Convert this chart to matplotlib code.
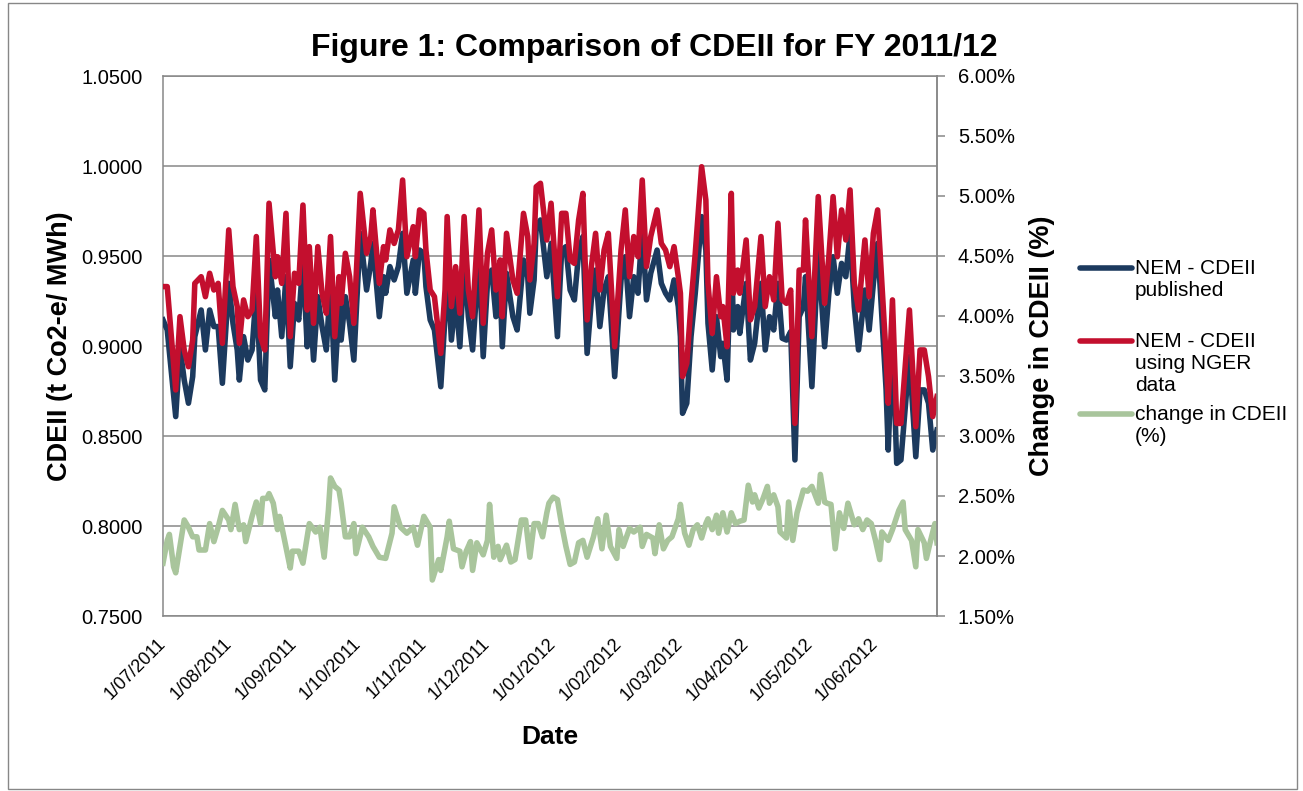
import matplotlib
matplotlib.use("Agg")
import matplotlib.pyplot as plt
from matplotlib.lines import Line2D
from matplotlib.patches import Rectangle
from matplotlib.ticker import FuncFormatter, MultipleLocator
import pandas as pd

plt.rcParams["font.family"] = ["Liberation Sans", "DejaVu Sans"]

# start of the financial year, all day offsets count from here
fy_start = pd.Timestamp("2011-07-01")

# days after 1/07/2011 for the two CDEII series (t CO2-e/MWh)
cdeii_days = [
    0, 2, 6, 8, 10, 12, 14, 15, 18, 20, 22, 24, 26, 28, 31, 33, 35, 36, 38, 40,
    42, 44, 46, 48, 50, 53, 54, 56, 58, 60, 62, 64, 66, 68, 69, 71, 73, 75, 77, 79,
    81, 83, 84, 86, 88, 90, 93, 96, 98, 99, 102, 104, 105, 107, 109, 111, 113, 115, 118, 119,
    121, 123, 124, 126, 128, 131, 133, 134, 136, 138, 140, 142, 144, 146, 149, 151, 153, 155, 157, 159,
    160, 162, 165, 167, 170, 172, 173, 175, 176, 178, 181, 183, 186, 188, 190, 192, 194, 196, 198, 200,
    202, 204, 206, 208, 210, 212, 213, 216, 218, 220, 222, 224, 226, 228, 230, 233, 235, 237, 239, 241,
    243, 244, 245, 247, 249, 251, 254, 256, 257, 259, 261, 263, 264, 266, 268, 269, 271, 272, 275, 277,
    279, 282, 284, 286, 288, 290, 292, 294, 296, 298, 300, 302, 303, 306, 309, 312, 314, 316, 318, 320,
    322, 324, 326, 328, 331, 333, 335, 337, 341, 342, 344, 346, 348, 352, 355, 357, 359, 361, 363, 365,
]
nem_published = [
    0.9145, 0.9089, 0.8608, 0.8996, 0.8811, 0.8682, 0.8830, 0.9052, 0.9200, 0.8978,
    0.9200, 0.9108, 0.9108, 0.8793, 0.9348, 0.9126, 0.8978, 0.8811, 0.9052, 0.8922,
    0.8978, 0.9311, 0.8811, 0.8756, 0.9478, 0.9163, 0.9311, 0.9052, 0.9385, 0.8885,
    0.9237, 0.9145, 0.9478, 0.8996, 0.9311, 0.8922, 0.9274, 0.9108, 0.8978, 0.9348,
    0.8811, 0.9219, 0.9033, 0.9274, 0.9126, 0.8922, 0.9626, 0.9311, 0.9459, 0.9570,
    0.9163, 0.9385, 0.9293, 0.9441, 0.9367, 0.9441, 0.9626, 0.9293, 0.9478, 0.9293,
    0.9533, 0.9515, 0.9330, 0.9145, 0.9089, 0.8774, 0.9163, 0.9478, 0.9033, 0.9274,
    0.8996, 0.9478, 0.9163, 0.8978, 0.9496, 0.8941, 0.9348, 0.9422, 0.9163, 0.9330,
    0.8996, 0.9404, 0.9163, 0.9089, 0.9478, 0.9385, 0.9182, 0.9367, 0.9663, 0.9700,
    0.9385, 0.9570, 0.9052, 0.9533, 0.9552, 0.9311, 0.9256, 0.9515, 0.9608, 0.8959,
    0.9256, 0.9422, 0.9108, 0.9311, 0.9385, 0.9015, 0.8830, 0.9367, 0.9496, 0.9163,
    0.9385, 0.9293, 0.9663, 0.9256, 0.9404, 0.9533, 0.9348, 0.9293, 0.9256, 0.9367,
    0.9219, 0.9052, 0.8626, 0.8682, 0.9052, 0.9293, 0.9719, 0.9533, 0.9126, 0.8867,
    0.9163, 0.8941, 0.9015, 0.8811, 0.9589, 0.9089, 0.9219, 0.9070, 0.9348, 0.8922,
    0.9015, 0.9348, 0.8978, 0.9163, 0.9089, 0.9348, 0.9043, 0.9033, 0.9080, 0.8367,
    0.9163, 0.9219, 0.9385, 0.8774, 0.9533, 0.8996, 0.9293, 0.9496, 0.9293, 0.9459,
    0.9385, 0.9626, 0.9219, 0.8978, 0.9311, 0.9089, 0.9348, 0.9570, 0.8756, 0.8422,
    0.9052, 0.8348, 0.8367, 0.8941, 0.8385, 0.8756, 0.8756, 0.8682, 0.8422, 0.8533,
]
nem_nger = [
    0.9330, 0.9330, 0.8756, 0.9163, 0.8978, 0.8885, 0.9033, 0.9348, 0.9385, 0.9274,
    0.9404, 0.9311, 0.9348, 0.9015, 0.9645, 0.9330, 0.9219, 0.9015, 0.9256, 0.9163,
    0.9200, 0.9608, 0.9052, 0.8978, 0.9793, 0.9385, 0.9496, 0.9348, 0.9737, 0.9052,
    0.9404, 0.9348, 0.9783, 0.9200, 0.9552, 0.9126, 0.9552, 0.9293, 0.9182, 0.9608,
    0.9052, 0.9385, 0.9237, 0.9515, 0.9385, 0.9126, 0.9848, 0.9515, 0.9608, 0.9756,
    0.9348, 0.9552, 0.9478, 0.9645, 0.9570, 0.9645, 0.9922, 0.9496, 0.9663, 0.9496,
    0.9756, 0.9737, 0.9533, 0.9311, 0.9274, 0.8959, 0.9311, 0.9719, 0.9219, 0.9441,
    0.9182, 0.9719, 0.9311, 0.9163, 0.9756, 0.9126, 0.9515, 0.9645, 0.9311, 0.9478,
    0.9163, 0.9626, 0.9367, 0.9293, 0.9737, 0.9608, 0.9367, 0.9570, 0.9885, 0.9904,
    0.9589, 0.9793, 0.9274, 0.9737, 0.9737, 0.9478, 0.9459, 0.9700, 0.9848, 0.9145,
    0.9441, 0.9626, 0.9311, 0.9533, 0.9626, 0.9200, 0.8996, 0.9533, 0.9756, 0.9385,
    0.9608, 0.9496, 0.9922, 0.9441, 0.9608, 0.9756, 0.9570, 0.9533, 0.9441, 0.9552,
    0.9385, 0.9293, 0.8830, 0.8904, 0.9237, 0.9515, 0.9996, 0.9811, 0.9348, 0.9070,
    0.9385, 0.9163, 0.9219, 0.8996, 0.9848, 0.9293, 0.9422, 0.9293, 0.9589, 0.9145,
    0.9219, 0.9608, 0.9219, 0.9385, 0.9256, 0.9682, 0.9256, 0.9237, 0.9311, 0.8570,
    0.9422, 0.9422, 0.9700, 0.9052, 0.9830, 0.9237, 0.9496, 0.9830, 0.9496, 0.9756,
    0.9589, 0.9867, 0.9348, 0.9200, 0.9589, 0.9274, 0.9626, 0.9756, 0.8941, 0.8682,
    0.9256, 0.8570, 0.8570, 0.9200, 0.8552, 0.8978, 0.8978, 0.8830, 0.8608, 0.8719,
]

# days after 1/07/2011 for the percentage change series
change_days = [
    0, 2, 3, 5, 6, 8, 10, 12, 14, 16, 17, 20, 22, 24, 26, 28, 31, 32, 34, 36,
    38, 39, 42, 44, 46, 47, 49, 50, 52, 54, 55, 57, 60, 61, 64, 66, 69, 72, 74, 76,
    78, 79, 81, 83, 84, 86, 88, 90, 91, 94, 97, 99, 102, 105, 108, 109, 112, 115, 118, 120,
    123, 126, 127, 130, 131, 134, 135, 137, 140, 141, 143, 145, 146, 148, 151, 153, 154, 156, 158, 159,
    162, 164, 166, 169, 171, 173, 175, 177, 179, 181, 182, 184, 186, 188, 190, 192, 194, 196, 198, 200,
    203, 205, 207, 209, 211, 214, 215, 217, 220, 222, 225, 226, 228, 231, 232, 234, 236, 238, 240, 243,
    244, 246, 248, 250, 252, 254, 256, 257, 259, 261, 262, 264, 266, 268, 270, 272, 274, 276, 278, 279,
    281, 283, 285, 286, 288, 290, 291, 294, 295, 297, 299, 302, 304, 306, 309, 310, 312, 313, 315, 317,
    319, 321, 323, 326, 328, 330, 332, 334, 336, 338, 339, 342, 344, 347, 349, 350, 353, 355, 356, 359,
    360, 362, 364, 365,
]
change_pct = [
    1.94, 2.13, 2.18, 1.91, 1.86, 2.08, 2.30, 2.24, 2.16, 2.16, 2.05, 2.05, 2.27, 2.12, 2.24, 2.38, 2.30, 2.22, 2.43, 2.22,
    2.26, 2.12, 2.33, 2.45, 2.27, 2.48, 2.48, 2.52, 2.44, 2.22, 2.33, 2.16, 1.90, 2.04, 2.04, 1.94, 2.27, 2.20, 2.24, 1.99,
    2.38, 2.65, 2.58, 2.55, 2.44, 2.16, 2.16, 2.27, 2.02, 2.24, 2.16, 2.08, 1.99, 1.98, 2.19, 2.41, 2.24, 2.19, 2.24, 2.09,
    2.33, 2.24, 1.80, 1.97, 1.88, 2.16, 2.29, 2.06, 2.04, 1.91, 2.04, 2.12, 1.88, 2.11, 2.01, 2.13, 2.43, 1.99, 2.08, 1.97,
    2.09, 1.95, 1.97, 2.30, 2.30, 1.99, 2.27, 2.27, 2.16, 2.36, 2.44, 2.49, 2.47, 2.26, 2.08, 1.93, 1.95, 2.11, 2.13, 1.99,
    2.16, 2.31, 2.06, 2.34, 2.08, 1.98, 2.22, 2.08, 2.23, 2.20, 2.24, 2.08, 2.18, 2.15, 2.02, 2.26, 2.06, 2.13, 2.16, 2.31,
    2.43, 2.19, 2.09, 2.22, 2.26, 2.15, 2.27, 2.31, 2.22, 2.34, 2.19, 2.36, 2.20, 2.36, 2.27, 2.29, 2.30, 2.59, 2.45, 2.51,
    2.40, 2.48, 2.58, 2.44, 2.51, 2.41, 2.20, 2.15, 2.45, 2.13, 2.36, 2.55, 2.54, 2.58, 2.44, 2.68, 2.45, 2.44, 2.43, 2.06,
    2.36, 2.23, 2.44, 2.26, 2.31, 2.22, 2.30, 2.27, 2.13, 1.97, 2.20, 2.13, 2.22, 2.38, 2.45, 2.22, 2.13, 1.91, 2.22, 2.11,
    1.98, 2.13, 2.27, 2.11,
]

series_labels = [
    "NEM - CDEII\npublished",
    "NEM - CDEII\nusing NGER\ndata",
    "change in CDEII\n(%)",
]
month_starts = pd.date_range("2011-07-01", "2012-06-01", freq="MS")
month_labels = [f"{d.day}/{d.month:02d}/{d.year}" for d in month_starts]

BLUE = "#1C3A5E"
RED = "#C30F2E"
GREEN = "#A9C59C"
GREY = "#878787"
LW = 4.0


def to_dates(days):
    return fy_start + pd.to_timedelta(days, unit="D")


fig = plt.figure(figsize=(13.03, 7.91), dpi=100)
ax = fig.add_axes([163 / 1303, 1 - 616 / 791, 774 / 1303, 540 / 791])

# main axis: the two CDEII series
ax.plot(to_dates(cdeii_days), nem_published, color=BLUE, lw=LW, zorder=3,
        solid_joinstyle="round")
ax.plot(to_dates(cdeii_days), nem_nger, color=RED, lw=LW, zorder=4,
        solid_joinstyle="round")

ax.set_xlim(fy_start, fy_start + pd.Timedelta(days=365))
ax.set_ylim(0.75, 1.05)
ax.yaxis.set_major_locator(MultipleLocator(0.05))
ax.yaxis.set_major_formatter(FuncFormatter(lambda v, p: f"{v:.4f}"))
ax.grid(axis="y", color=GREY, lw=1.1, zorder=0)
ax.set_axisbelow(True)

ax.set_xticks(month_starts)
ax.set_xticklabels(month_labels, rotation=45, ha="right", va="center",
                   rotation_mode="anchor", fontsize=13)
ax.tick_params(axis="x", length=0, pad=18)
ax.tick_params(axis="y", length=0, pad=14.5, labelsize=14.5)

for side in ["left", "bottom", "top", "right"]:
    ax.spines[side].set_color(GREY)
    ax.spines[side].set_linewidth(1.1)

ax.set_ylabel("CDEII (t Co2-e/ MWh)", fontsize=19.5, fontweight="bold", labelpad=6)

# secondary axis: percentage change
ax2 = ax.twinx()
ax2.plot(to_dates(change_days), change_pct, color=GREEN, lw=LW,
         solid_joinstyle="round")
ax2.set_ylim(1.5, 6.0)
ax2.yaxis.set_major_locator(MultipleLocator(0.5))
ax2.yaxis.set_major_formatter(FuncFormatter(lambda v, p: f"{v:.2f}%"))
ax2.tick_params(axis="y", direction="out", length=6, width=1.1, color=GREY,
                pad=9, labelsize=14.5)
for side in ["left", "bottom", "top"]:
    ax2.spines[side].set_visible(False)
ax2.spines["right"].set_color(GREY)
ax2.spines["right"].set_linewidth(1.1)
ax2.set_ylabel("Change in CDEII (%)", fontsize=19.5, fontweight="bold", labelpad=10)

# titles
fig.text(654 / 1303, 1 - 48 / 791, "Figure 1: Comparison of CDEII for FY 2011/12",
         ha="center", va="center", fontsize=23, fontweight="bold")
fig.text(550 / 1303, 1 - 737 / 791, "Date", ha="center", va="center",
         fontsize=19, fontweight="bold")

# legend drawn by hand so the line sits on the first text row
legend_rows = [268, 341, 414]
for color, label, y in zip([BLUE, RED, GREEN], series_labels, legend_rows):
    fig.add_artist(Line2D([1080 / 1303, 1132 / 1303], [1 - y / 791] * 2,
                          color=color, lw=LW, solid_capstyle="round"))
    fig.text(1135 / 1303, 1 - (y - 9) / 791, label, ha="left", va="top",
             fontsize=15, linespacing=1.2)

# outer chart border
fig.add_artist(Rectangle((8 / 1303, 2 / 791), 1289 / 1303, 786 / 791,
                         transform=fig.transFigure, fill=False, edgecolor=GREY, lw=1))

fig.savefig("out.png", dpi=100)
